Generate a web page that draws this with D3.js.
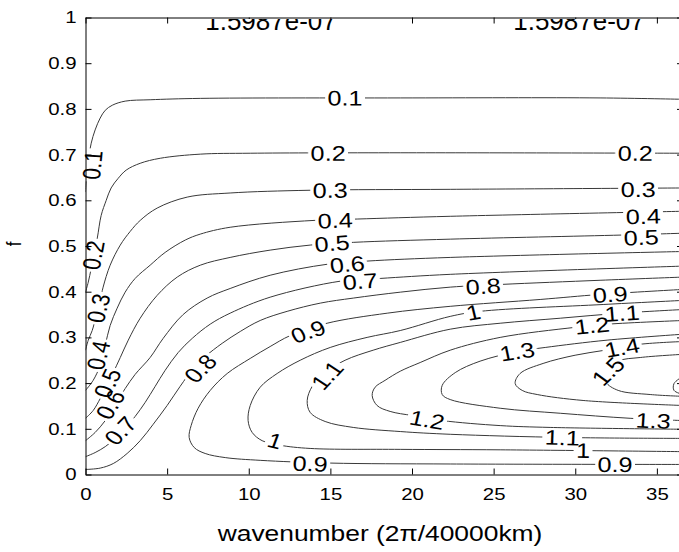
<!DOCTYPE html>
<html>
<head>
<meta charset="utf-8">
<script src="https://cdn.jsdelivr.net/npm/d3@7"></script>
<style>
  body { margin: 0; background: #fff; }
  svg { display: block; }
  text { font-family: "Liberation Sans", Arial, Helvetica, sans-serif; fill: #000; }
</style>
</head>
<body>
<svg id="chart" width="679" height="552"></svg>
<script>
// ---- contour levels and the traced iso-lines, as [wavenumber, f] pairs ----
const levels = [0.1, 0.2, 0.3, 0.4, 0.5, 0.6, 0.7, 0.8, 0.9, 1, 1.1, 1.2, 1.3, 1.4, 1.5, 1.6];

const c01 = [[0,0.618],[0.04,0.644],[0.17,0.688],[0.35,0.725],[0.59,0.754],[0.9,0.78],[1.21,0.797],[1.64,0.808],[2.43,0.817],[3.96,0.82],[7.03,0.823],[19.28,0.824],[31.52,0.824],[36.6,0.821]];
const c02 = [[0,0.399],[0.17,0.421],[0.35,0.451],[0.53,0.486],[0.72,0.517],[0.96,0.567],[1.27,0.6],[1.57,0.627],[2.0,0.648],[2.49,0.666],[3.35,0.681],[4.58,0.692],[7.03,0.701],[10.09,0.703],[19.28,0.704],[36.6,0.703]];
const c03 = [[0,0.272],[0.17,0.294],[0.41,0.315],[0.66,0.348],[0.9,0.381],[1.08,0.41],[1.51,0.458],[2.13,0.502],[2.74,0.532],[3.35,0.556],[4.39,0.583],[6.23,0.607],[8.86,0.616],[13.76,0.622],[22.34,0.624],[36.6,0.627]];
const c04 = [[0,0.184],[0.47,0.206],[0.9,0.239],[1.21,0.283],[1.51,0.326],[1.94,0.364],[2.43,0.399],[3.04,0.429],[3.96,0.458],[4.88,0.486],[6.11,0.513],[7.03,0.526],[8.86,0.541],[14.0,0.556],[16.64,0.559],[22.34,0.565],[36.6,0.576]];
const c05 = [[0,0.123],[0.47,0.14],[0.9,0.166],[1.33,0.195],[1.7,0.223],[2.13,0.256],[2.62,0.294],[3.35,0.342],[4.39,0.392],[5.62,0.432],[7.03,0.458],[8.86,0.475],[11.31,0.491],[13.76,0.502],[16.4,0.508],[22.34,0.515],[32.87,0.524],[36.6,0.528]];
const c06 = [[0,0.074],[0.59,0.092],[1.21,0.118],[1.82,0.153],[2.43,0.188],[3.04,0.219],[3.96,0.256],[4.76,0.298],[5.98,0.35],[7.45,0.386],[8.86,0.407],[11.31,0.436],[14.8,0.46],[17.25,0.467],[22.34,0.475],[36.6,0.488]];
const c07 = [[0,0.039],[0.59,0.048],[1.21,0.061],[1.82,0.079],[2.43,0.101],[3.04,0.127],[3.66,0.158],[4.27,0.193],[4.88,0.228],[5.68,0.267],[6.54,0.298],[7.64,0.329],[8.86,0.353],[11.31,0.388],[15.6,0.423],[18.05,0.429],[22.34,0.438],[36.6,0.456]];
const c08 = [[0,0.011],[0.9,0.014],[1.7,0.024],[2.55,0.046],[3.35,0.074],[4.15,0.11],[5.0,0.151],[5.8,0.193],[6.6,0.232],[7.33,0.258],[8.37,0.287],[9.48,0.313],[10.7,0.337],[12.35,0.357],[14.38,0.375],[16.4,0.386],[19.28,0.399],[22.34,0.41],[25.52,0.416],[31.52,0.425],[36.6,0.432]];
const c09 = [[36.6,0.405],[31.52,0.394],[27.85,0.383],[22.34,0.368],[18.48,0.353],[14.8,0.331],[12.54,0.304],[11.31,0.28],[10.09,0.254],[8.68,0.221],[7.64,0.184],[6.9,0.145],[6.47,0.107],[6.35,0.081],[6.66,0.059],[7.33,0.046],[8.56,0.037],[10.7,0.031],[14.99,0.025],[22.34,0.023],[36.6,0.022]];
const c10 = [[36.6,0.381],[31.71,0.372],[24.17,0.357],[22.34,0.346],[19.28,0.315],[17.25,0.3],[14.99,0.278],[13.15,0.25],[11.74,0.221],[10.7,0.191],[10.09,0.151],[9.96,0.118],[10.21,0.092],[10.82,0.074],[11.93,0.064],[13.76,0.057],[19.28,0.055],[25.4,0.054],[36.6,0.05]];
const c11 = [[36.6,0.361],[32.75,0.353],[29.08,0.342],[25.4,0.331],[22.34,0.318],[19.28,0.289],[17.62,0.272],[15.9,0.25],[14.68,0.223],[13.89,0.193],[13.58,0.162],[13.76,0.136],[14.68,0.116],[16.4,0.103],[19.28,0.094],[22.34,0.088],[29.38,0.081],[36.6,0.079]];
const c12 = [[36.6,0.337],[32.01,0.329],[29.99,0.322],[25.4,0.3],[22.34,0.272],[20.5,0.245],[19.28,0.226],[18.35,0.206],[17.74,0.191],[17.56,0.173],[17.86,0.151],[18.66,0.138],[20.01,0.129],[21.85,0.118],[25.4,0.107],[28.46,0.103],[36.6,0.099]];
const c13 = [[36.6,0.307],[31.95,0.294],[28.16,0.278],[26.44,0.269],[24.17,0.248],[22.65,0.223],[21.85,0.195],[21.85,0.175],[22.34,0.164],[25.4,0.145],[29.08,0.134],[33.36,0.123],[36.6,0.118]];
const c14 = [[36.6,0.291],[33.98,0.285],[31.83,0.272],[29.99,0.261],[28.03,0.243],[26.62,0.221],[26.32,0.199],[26.75,0.184],[27.67,0.175],[30.48,0.162],[36.6,0.151]];
const c15 = [[36.6,0.263],[33.98,0.256],[32.63,0.248],[31.89,0.223],[31.89,0.202],[32.63,0.184],[34.59,0.175],[36.6,0.171]];
const c16 = [[36.6,0.215],[36.05,0.199],[36.05,0.184],[36.6,0.175]];

const contourData = [c01, c02, c03, c04, c05, c06, c07, c08, c09, c10, c11, c12, c13, c14, c15, c16];

// inline contour labels: [level, wavenumber, f]
const labelSpots = [
  [0.1, 15.9, 0.824], [0.1, 0.41, 0.677],
  [0.2, 14.86, 0.703], [0.2, 33.67, 0.703], [0.2, 0.47, 0.48],
  [0.3, 14.99, 0.622], [0.3, 33.85, 0.624], [0.3, 0.78, 0.364],
  [0.4, 15.29, 0.556], [0.4, 34.16, 0.565], [0.4, 0.78, 0.261],
  [0.5, 15.1, 0.506], [0.5, 34.04, 0.519], [0.5, 1.33, 0.2],
  [0.6, 16.03, 0.46], [0.6, 1.51, 0.153],
  [0.7, 16.82, 0.423], [0.7, 2.13, 0.096],
  [0.8, 24.36, 0.412], [0.8, 7.03, 0.232],
  [0.9, 13.64, 0.313], [0.9, 13.76, 0.024], [0.9, 32.14, 0.394], [0.9, 32.44, 0.022],
  [1, 23.75, 0.355], [1, 11.62, 0.074], [1, 30.48, 0.053],
  [1.1, 14.8, 0.217], [1.1, 32.87, 0.353], [1.1, 29.2, 0.081],
  [1.2, 31.03, 0.326], [1.2, 20.93, 0.12],
  [1.3, 26.44, 0.269], [1.3, 34.77, 0.118],
  [1.4, 32.87, 0.278],
  [1.5, 32.01, 0.226]
];

const xTicks = [0, 5, 10, 15, 20, 25, 30, 35];
const yTicks = [0, 0.1, 0.2, 0.3, 0.4, 0.5, 0.6, 0.7, 0.8, 0.9, 1];
const xTitle = "wavenumber (2\u03c0/40000km)";
const yTitle = "f";
const scaleNote = "1.5987e-07";

// ---- layout ----
const W = 679, H = 552;
const SX = 1.2;            // horizontal glyph stretch
const svg = d3.select("#chart");
const defs = svg.append("defs");

const x = d3.scaleLinear().domain([0, 36.6]).range([85.5, 683]);
const y = d3.scaleLinear().domain([0, 1]).range([474.5, 17.5]);

defs.append("clipPath").attr("id", "plotClip")
  .append("rect")
  .attr("x", x(0)).attr("y", y(1))
  .attr("width", x(36.6) - x(0)).attr("height", y(0) - y(1));

const lineGen = d3.line()
  .x(d => x(d[0])).y(d => y(d[1]))
  .curve(d3.curveCatmullRom.alpha(0.5));

// text measuring helper
const probe = svg.append("text").attr("font-size", 21).style("visibility", "hidden");
function textWidth(s) { probe.text(s); return probe.node().getComputedTextLength(); }

// local direction of a traced line near a pixel position (angle in unstretched text space)
function tangentAt(pts, px, py) {
  let best = Infinity, ang = 0;
  for (let i = 0; i < pts.length - 1; i++) {
    const [x1, y1] = pts[i], [x2, y2] = pts[i + 1];
    const dx = x2 - x1, dy = y2 - y1, L = dx * dx + dy * dy;
    let t = L ? ((px - x1) * dx + (py - y1) * dy) / L : 0;
    t = Math.max(0, Math.min(1, t));
    const cx = x1 + t * dx, cy = y1 + t * dy;
    const d = (px - cx) ** 2 + (py - cy) ** 2;
    if (d < best) { best = d; ang = Math.atan2(dy, dx / SX); }
  }
  let deg = ang * 180 / Math.PI;
  if (deg > 90) deg -= 180;
  if (deg < -90) deg += 180;
  return deg;
}

const plot = svg.append("g").attr("clip-path", "url(#plotClip)");
const labelLayer = svg.append("g");
const fmt = v => String(v);

levels.forEach((lv, i) => {
  const pts = contourData[i].map(d => [x(d[0]), y(d[1])]);
  const spots = labelSpots.filter(s => s[0] === lv);
  const mask = defs.append("mask").attr("id", "gap" + i)
    .attr("maskUnits", "userSpaceOnUse")
    .attr("x", 0).attr("y", 0).attr("width", W).attr("height", H);
  mask.append("rect").attr("width", W).attr("height", H).attr("fill", "#fff");

  spots.forEach(s => {
    const px = x(s[1]), py = y(s[2]);
    const a = tangentAt(pts, px, py);
    const label = fmt(lv);
    const w = textWidth(label);
    const tf = `translate(${px},${py}) scale(${SX},1) rotate(${a})`;
    mask.append("rect")
      .attr("x", -w / 2 - 2).attr("y", -8).attr("width", w + 4).attr("height", 16)
      .attr("transform", tf).attr("fill", "#000");
    labelLayer.append("text")
      .attr("transform", tf)
      .attr("text-anchor", "middle").attr("dy", "0.36em")
      .attr("font-size", 21)
      .text(label);
  });

  plot.append("path")
    .attr("d", lineGen(contourData[i]))
    .attr("mask", `url(#gap${i})`)
    .attr("fill", "none")
    .attr("stroke", "#383838")
    .attr("stroke-width", 1);
});

// ---- axes (ticks point inward) ----
const axisFont = 17;
const gx = svg.append("g").attr("transform", `translate(0,${y(0)})`)
  .call(d3.axisBottom(x).tickValues(xTicks).tickFormat(d3.format("d")).tickSizeInner(-6).tickSizeOuter(0));
gx.selectAll("text").attr("y", 13).attr("transform", `scale(${SX},1)`);

const gy = svg.append("g").attr("transform", `translate(${x(0)},0)`)
  .call(d3.axisLeft(y).tickValues(yTicks).tickFormat(d => fmt(d)).tickSizeInner(-6).tickSizeOuter(0));
gy.selectAll("text").attr("x", -9 / SX).attr("transform", `scale(${SX},1)`);

const gt = svg.append("g").attr("transform", `translate(0,${y(1)})`)
  .call(d3.axisTop(x).tickValues(xTicks).tickFormat("").tickSizeInner(-6).tickSizeOuter(0));
const gr = svg.append("g").attr("transform", `translate(${x(36.6)},0)`)
  .call(d3.axisRight(y).tickValues(yTicks).tickFormat("").tickSizeInner(-6).tickSizeOuter(0));

[gx, gy, gt, gr].forEach(g => {
  g.attr("font-size", axisFont).attr("font-family", null);
  g.selectAll("path, line").attr("stroke", "#000").attr("stroke-width", 1);
  g.selectAll("text").attr("fill", "#000");
});

// ---- scale factor annotations along the top edge (upper half hidden under the frame) ----
defs.append("clipPath").attr("id", "noteClip")
  .append("rect").attr("x", 0).attr("y", 19).attr("width", W).attr("height", 40);
const notes = svg.append("g").attr("clip-path", "url(#noteClip)");
[271, 579].forEach(cx => {
  const g = notes.append("g").attr("transform", `translate(${cx},29.5)`);
  const t = g.append("text").attr("text-anchor", "middle").attr("font-size", 26).text(scaleNote);
  const bb = t.node().getBBox();
  g.insert("rect", "text").attr("x", bb.x - 1).attr("y", bb.y).attr("width", bb.width + 2).attr("height", bb.height)
    .attr("fill", "#fff");
});

// ---- axis titles ----
svg.append("text")
  .attr("transform", `translate(380,541) scale(${SX},1)`)
  .attr("text-anchor", "middle").attr("font-size", 22)
  .text(xTitle);
svg.append("text")
  .attr("transform", `translate(21,244) scale(${SX},1) rotate(-90)`)
  .attr("text-anchor", "middle").attr("font-size", 17)
  .text(yTitle);

probe.remove();
</script>
</body>
</html>
